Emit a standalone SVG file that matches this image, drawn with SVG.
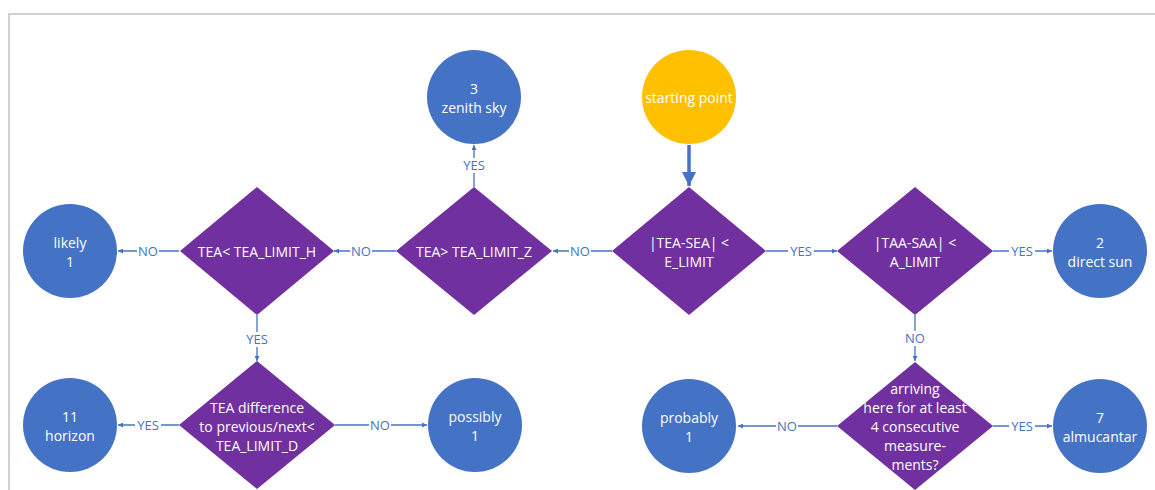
<svg xmlns="http://www.w3.org/2000/svg" width="1155" height="490" viewBox="0 0 1155 490">
<defs>
<marker id="ah" viewBox="0 0 10 10" refX="10" refY="5" markerWidth="5" markerHeight="5" markerUnits="userSpaceOnUse" orient="auto">
<path d="M0,0 L10,5 L0,10 z" fill="#4472C4"/>
</marker>
<marker id="ahb" viewBox="0 0 10 10" refX="10" refY="5" markerWidth="4" markerHeight="4" orient="auto">
<path d="M0,0 L10,5 L0,10 z" fill="#4472C4"/>
</marker>
<style>
.c{fill:#4472C4}
.s{fill:#FFC000}
.d{fill:#7030A0}
.t{fill:#fff;font-family:"Open Sans","Noto Sans",sans-serif;font-size:14px;text-anchor:middle;dominant-baseline:central}
.ln{stroke:#4472C4;stroke-width:1.3;fill:none}
.lb{fill:#4472C4;font-family:"Open Sans","Noto Sans",sans-serif;font-size:13px;text-anchor:middle;dominant-baseline:central}
.bg{fill:#fff}
.fr{stroke:#d0d0d0;stroke-width:2;fill:none}
</style>
</defs>
<rect width="1155" height="490" fill="#fff"/>
<path class="fr" d="M9,490 V14 H1155"/>

<g id="connectors">
<line class="ln" x1="689" y1="145" x2="689" y2="186" style="stroke-width:3.5" marker-end="url(#ahb)"/>
<line class="ln" x1="474" y1="187" x2="474" y2="145" marker-end="url(#ah)"/>
<line class="ln" x1="612" y1="251" x2="553" y2="251" marker-end="url(#ah)"/>
<line class="ln" x1="396" y1="251" x2="334" y2="251" marker-end="url(#ah)"/>
<line class="ln" x1="179" y1="251" x2="118" y2="251" marker-end="url(#ah)"/>
<line class="ln" x1="766" y1="251" x2="837" y2="251" marker-end="url(#ah)"/>
<line class="ln" x1="993" y1="251" x2="1052" y2="251" marker-end="url(#ah)"/>
<line class="ln" x1="257" y1="315" x2="257" y2="361" marker-end="url(#ah)"/>
<line class="ln" x1="915" y1="315" x2="915" y2="361" marker-end="url(#ah)"/>
<line class="ln" x1="179" y1="425" x2="118" y2="425" marker-end="url(#ah)"/>
<line class="ln" x1="335" y1="425" x2="427" y2="425" marker-end="url(#ah)"/>
<line class="ln" x1="837" y1="426" x2="738" y2="426" marker-end="url(#ah)"/>
<line class="ln" x1="993" y1="426" x2="1052" y2="426" marker-end="url(#ah)"/>

<rect class="bg" x="462" y="158" width="24" height="15"/><text class="lb" x="474" y="165">YES</text>
<rect class="bg" x="569" y="244" width="22" height="15"/><text class="lb" x="580" y="251">NO</text>
<rect class="bg" x="350" y="244" width="22" height="15"/><text class="lb" x="361" y="251">NO</text>
<rect class="bg" x="137" y="244" width="22" height="15"/><text class="lb" x="148" y="251">NO</text>
<rect class="bg" x="788" y="244" width="26" height="15"/><text class="lb" x="801" y="251">YES</text>
<rect class="bg" x="1009" y="244" width="26" height="15"/><text class="lb" x="1022" y="251">YES</text>
<rect class="bg" x="245" y="332" width="24" height="15"/><text class="lb" x="257" y="339">YES</text>
<rect class="bg" x="905" y="331" width="22" height="15"/><text class="lb" x="915" y="338">NO</text>
<rect class="bg" x="135" y="418" width="26" height="15"/><text class="lb" x="148" y="425">YES</text>
<rect class="bg" x="369" y="418" width="22" height="15"/><text class="lb" x="380" y="425">NO</text>
<rect class="bg" x="776" y="419" width="22" height="15"/><text class="lb" x="787" y="426">NO</text>
<rect class="bg" x="1009" y="419" width="26" height="15"/><text class="lb" x="1022" y="426">YES</text>
</g>

<g id="zenith"><circle class="c" cx="474" cy="97" r="47"/><text class="t" x="474" y="88">3</text><text class="t" x="474" y="107">zenith sky</text></g>
<g id="start"><circle class="s" cx="689" cy="97" r="47"/><text class="t" x="689" y="97">starting point</text></g>
<g id="likely"><circle class="c" cx="70" cy="251" r="47"/><text class="t" x="70" y="242">likely</text><text class="t" x="70" y="261">1</text></g>
<g id="tea_h"><polygon class="d" points="257,187 334,251 257,315 180,251"/><text class="t" x="257" y="251">TEA&lt; TEA_LIMIT_H</text></g>
<g id="tea_z"><polygon class="d" points="474,187 552,251 474,315 396,251"/><text class="t" x="474" y="251">TEA&gt; TEA_LIMIT_Z</text></g>
<g id="tea_sea"><polygon class="d" points="689,187 766,251 689,315 612,251"/><text class="t" x="689" y="242">|TEA-SEA| &lt;</text><text class="t" x="689" y="261">E_LIMIT</text></g>
<g id="taa_saa"><polygon class="d" points="915,187 993,251 915,315 837,251"/><text class="t" x="915" y="242">|TAA-SAA| &lt;</text><text class="t" x="915" y="261">A_LIMIT</text></g>
<g id="direct_sun"><circle class="c" cx="1100" cy="251" r="47"/><text class="t" x="1100" y="242">2</text><text class="t" x="1100" y="261">direct sun</text></g>
<g id="horizon"><circle class="c" cx="70" cy="425" r="47"/><text class="t" x="70" y="416">11</text><text class="t" x="70" y="435">horizon</text></g>
<g id="tea_d"><polygon class="d" points="257,361 335,425 257,489 179,425"/><text class="t" x="257" y="407">TEA difference</text><text class="t" x="257" y="426">to previous/next&lt;</text><text class="t" x="257" y="445">TEA_LIMIT_D</text></g>
<g id="possibly"><circle class="c" cx="475" cy="425" r="47"/><text class="t" x="475" y="416">possibly</text><text class="t" x="475" y="435">1</text></g>
<g id="probably"><circle class="c" cx="689" cy="426" r="47"/><text class="t" x="689" y="417">probably</text><text class="t" x="689" y="436">1</text></g>
<g id="arriving"><polygon class="d" points="915,362 993,426 915,490 837,426"/><text class="t" x="915" y="388">arriving</text><text class="t" x="915" y="407">here for at least</text><text class="t" x="915" y="426">4 consecutive</text><text class="t" x="915" y="445">measure-</text><text class="t" x="915" y="464">ments?</text></g>
<g id="almucantar"><circle class="c" cx="1100" cy="426" r="47"/><text class="t" x="1100" y="417">7</text><text class="t" x="1100" y="436">almucantar</text></g>
</svg>
